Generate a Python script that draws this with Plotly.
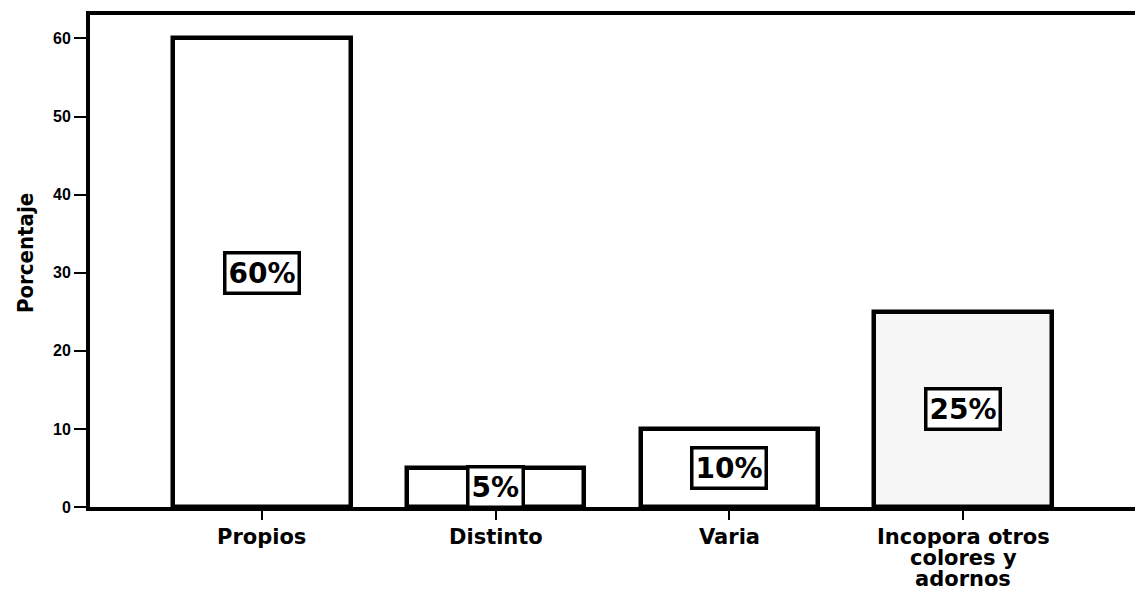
import plotly.graph_objects as go

categories = ["Propios", "Distinto", "Varia", "Incopora otros<br>colores y<br>adornos"]
values = [60, 5, 10, 25]
labels = ["60%", "5%", "10%", "25%"]
fills = ["white", "white", "white", "#f6f6f6"]
yticks = [0, 10, 20, 30, 40, 50, 60]

fig = go.Figure()
fig.add_trace(go.Bar(
    x=list(range(len(categories))), y=values, width=0.76,
    marker=dict(color=fills, line=dict(color="black", width=4.5)),
    hoverinfo="skip",
))

for i, (v, t) in enumerate(zip(values, labels)):
    fig.add_annotation(x=i, y=v / 2, text=f"<b>{t}</b>", showarrow=False,
                       font=dict(family="DejaVu Sans", size=28, color="black"),
                       bordercolor="black", borderwidth=3.5, borderpad=2, bgcolor="white")

# category labels, one annotation per line for tight line spacing
for i, c in enumerate(categories):
    for k, line in enumerate(c.split("<br>")):
        fig.add_annotation(x=i, xref="x", y=0, yref="paper", yanchor="top",
                           yshift=-15 - 21 * k, height=25, valign="middle",
                           text=f"<b>{line}</b>", showarrow=False,
                           font=dict(family="DejaVu Sans", size=21, color="black"))

fig.add_annotation(x=0, xref="paper", y=0.5, yref="paper", xanchor="center",
                   xshift=-65, yshift=8, text="<b>Porcentaje</b>", textangle=-90, showarrow=False,
                   font=dict(family="DejaVu Sans Condensed", size=22, color="black"))

fig.update_layout(
    width=1139, height=589,
    margin=dict(l=90, r=4, t=15, b=82),
    plot_bgcolor="white", paper_bgcolor="white",
    showlegend=False, bargap=0,
    font=dict(family="Liberation Sans, Arial", color="black"),
)
fig.update_xaxes(
    range=[-0.735, 3.735], tickmode="array", tickvals=list(range(len(categories))),
    showticklabels=False, automargin=False,
    showline=True, linecolor="black", linewidth=4, mirror=True,
    ticks="outside", ticklen=9, tickwidth=2, tickcolor="black", showgrid=False, zeroline=False,
)
fig.update_yaxes(
    range=[0, 63], tickvals=yticks,
    ticktext=[f"<b>{v}</b>" for v in yticks], automargin=False,
    tickfont=dict(size=16, family="Liberation Sans, Arial"), showline=True, linecolor="black", linewidth=4,
    ticks="outside", ticklen=12, tickwidth=2, tickcolor="black", showgrid=False, zeroline=False,
)

fig.write_html("out.html", config={"displayModeBar": False},
               post_script="document.body.style.margin='0';")
